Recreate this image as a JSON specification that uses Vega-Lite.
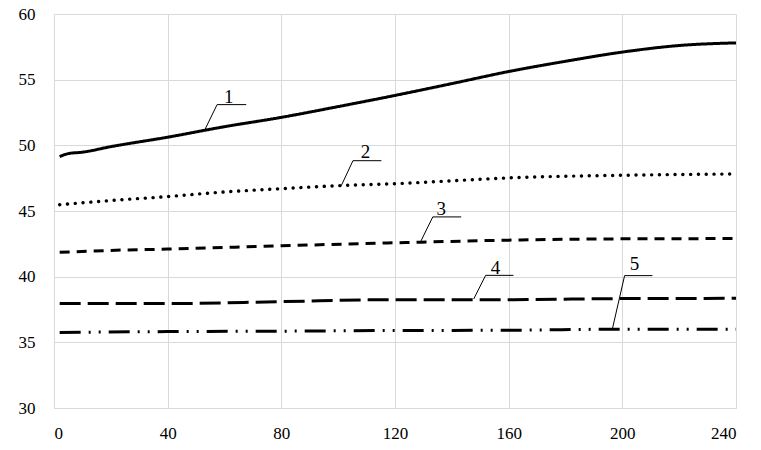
{
  "$schema": "https://vega.github.io/schema/vega-lite/v6.json",
  "width": 682,
  "height": 394,
  "autosize": {"type": "none"},
  "padding": {"left": 54, "top": 14, "right": 25, "bottom": 42},
  "background": "white",
  "config": {
    "view": {"stroke": null}
  },
  "datasets": {
    "curves": [
      {"series": "1", "t": 2, "v": 49.14},
      {"series": "1", "t": 5, "v": 49.37},
      {"series": "1", "t": 10, "v": 49.48},
      {"series": "1", "t": 20, "v": 49.9},
      {"series": "1", "t": 40, "v": 50.62},
      {"series": "1", "t": 60, "v": 51.42},
      {"series": "1", "t": 80, "v": 52.13},
      {"series": "1", "t": 100, "v": 52.95},
      {"series": "1", "t": 120, "v": 53.8},
      {"series": "1", "t": 140, "v": 54.7},
      {"series": "1", "t": 160, "v": 55.62},
      {"series": "1", "t": 180, "v": 56.4},
      {"series": "1", "t": 200, "v": 57.1},
      {"series": "1", "t": 220, "v": 57.6},
      {"series": "1", "t": 240, "v": 57.8},
      {"series": "2", "t": 2, "v": 45.48},
      {"series": "2", "t": 20, "v": 45.8},
      {"series": "2", "t": 40, "v": 46.1},
      {"series": "2", "t": 60, "v": 46.45},
      {"series": "2", "t": 80, "v": 46.7},
      {"series": "2", "t": 100, "v": 46.93},
      {"series": "2", "t": 120, "v": 47.08},
      {"series": "2", "t": 140, "v": 47.3},
      {"series": "2", "t": 160, "v": 47.52},
      {"series": "2", "t": 200, "v": 47.72},
      {"series": "2", "t": 240, "v": 47.82},
      {"series": "3", "t": 2, "v": 41.85},
      {"series": "3", "t": 20, "v": 42.0},
      {"series": "3", "t": 40, "v": 42.1},
      {"series": "3", "t": 80, "v": 42.35},
      {"series": "3", "t": 120, "v": 42.58},
      {"series": "3", "t": 160, "v": 42.78},
      {"series": "3", "t": 200, "v": 42.88},
      {"series": "3", "t": 240, "v": 42.9},
      {"series": "4", "t": 2, "v": 37.95},
      {"series": "4", "t": 40, "v": 37.95},
      {"series": "4", "t": 80, "v": 38.1},
      {"series": "4", "t": 120, "v": 38.25},
      {"series": "4", "t": 160, "v": 38.25},
      {"series": "4", "t": 200, "v": 38.33},
      {"series": "4", "t": 240, "v": 38.35},
      {"series": "5", "t": 2, "v": 35.75},
      {"series": "5", "t": 40, "v": 35.82},
      {"series": "5", "t": 80, "v": 35.85},
      {"series": "5", "t": 120, "v": 35.9},
      {"series": "5", "t": 160, "v": 35.92},
      {"series": "5", "t": 200, "v": 36.0},
      {"series": "5", "t": 240, "v": 36.0}
    ],
    "leaders": [
      {"label": "1", "x1": 52.97, "y1": 51.14, "x2": 57.4, "y2": 53.1},
      {"label": "1", "x1": 57.4, "y1": 53.1, "x2": 67.65, "y2": 53.1},
      {"label": "2", "x1": 101.1, "y1": 46.93, "x2": 105.2, "y2": 48.83},
      {"label": "2", "x1": 105.2, "y1": 48.83, "x2": 115.2, "y2": 48.83},
      {"label": "3", "x1": 128.9, "y1": 42.61, "x2": 133.3, "y2": 44.55},
      {"label": "3", "x1": 133.3, "y1": 44.55, "x2": 143.3, "y2": 44.55},
      {"label": "4", "x1": 147.7, "y1": 38.3, "x2": 151.9, "y2": 40.1},
      {"label": "4", "x1": 151.9, "y1": 40.1, "x2": 161.7, "y2": 40.1},
      {"label": "5", "x1": 196.5, "y1": 36.02, "x2": 200.8, "y2": 40.08},
      {"label": "5", "x1": 200.8, "y1": 40.08, "x2": 210.6, "y2": 40.08}
    ],
    "labels": [
      {"label": "1", "x": 61.5, "y": 53.25},
      {"label": "2", "x": 109.6, "y": 49.04},
      {"label": "3", "x": 136.3, "y": 44.72},
      {"label": "4", "x": 155.4, "y": 40.23},
      {"label": "5", "x": 204.3, "y": 40.48}
    ]
  },
  "layer": [
    {
      "data": {"name": "curves"},
      "transform": [{"filter": "datum.series != '2'"}],
      "mark": {"type": "line", "interpolate": "monotone", "strokeWidth": 3, "strokeCap": "butt", "color": "black"},
      "encoding": {
        "x": {
          "field": "t",
          "type": "quantitative",
          "title": null,
          "scale": {"domain": [0, 240], "nice": false},
          "axis": {
            "values": [0, 40, 80, 120, 160, 200, 240],
            "labelPadding": 17,
            "ticks": false,
            "grid": true,
            "gridColor": "#d9d9d9",
            "domainColor": "#d9d9d9",
            "labelFont": "Liberation Serif",
            "labelFontSize": 17,
            "labelColor": "black"
          }
        },
        "y": {
          "field": "v",
          "type": "quantitative",
          "title": null,
          "scale": {"domain": [30, 60], "nice": false, "zero": false},
          "axis": {
            "values": [30, 35, 40, 45, 50, 55, 60],
            "labelPadding": 19,
            "ticks": false,
            "grid": true,
            "gridColor": "#d9d9d9",
            "domainColor": "#d9d9d9",
            "labelFont": "Liberation Serif",
            "labelFontSize": 17,
            "labelColor": "black"
          }
        },
        "detail": {"field": "series"},
        "strokeDash": {
          "field": "series",
          "type": "nominal",
          "scale": {
            "domain": ["1", "3", "4", "5"],
            "range": [[1, 0], [10, 7], [21, 7], [21, 8, 2, 8, 2, 8]]
          },
          "legend": null
        }
      }
    },
    {
      "data": {"name": "curves"},
      "transform": [{"filter": "datum.series == '2'"}],
      "mark": {"type": "line", "interpolate": "monotone", "strokeWidth": 3.4, "strokeCap": "round", "strokeDash": [0.1, 7.7], "color": "black"},
      "encoding": {
        "x": {"field": "t", "type": "quantitative"},
        "y": {"field": "v", "type": "quantitative"}
      }
    },
    {
      "data": {"name": "leaders"},
      "mark": {"type": "rule", "color": "black", "strokeWidth": 1},
      "encoding": {
        "x": {"field": "x1", "type": "quantitative"},
        "y": {"field": "y1", "type": "quantitative"},
        "x2": {"field": "x2"},
        "y2": {"field": "y2"}
      }
    },
    {
      "data": {"name": "labels"},
      "mark": {"type": "text", "font": "Liberation Serif", "fontSize": 19, "baseline": "alphabetic", "align": "center", "color": "black"},
      "encoding": {
        "x": {"field": "x", "type": "quantitative"},
        "y": {"field": "y", "type": "quantitative"},
        "text": {"field": "label"}
      }
    }
  ]
}
